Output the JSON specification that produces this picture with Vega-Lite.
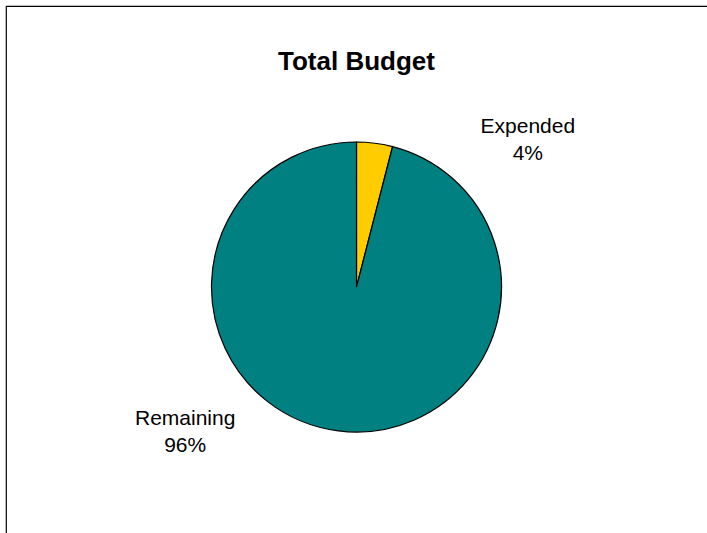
{
  "$schema": "https://vega.github.io/schema/vega-lite/v6.json",
  "autosize": {"type": "none"},
  "padding": {"left": 6, "top": 6, "right": 0, "bottom": 0},
  "width": 701,
  "height": 562,
  "background": "white",
  "view": {"stroke": "black", "strokeWidth": 1.2, "strokeDash": [701, 1263, 562, 0]},
  "title": {
    "text": "Total Budget",
    "font": "Liberation Sans",
    "fontSize": 26,
    "fontWeight": "bold",
    "color": "black",
    "anchor": "middle",
    "baseline": "middle",
    "offset": 0,
    "dy": 82
  },
  "data": {
    "values": [
      {"category": "Expended", "value": 4, "label": "Expended\n4%"},
      {"category": "Remaining", "value": 96, "label": "Remaining\n96%"}
    ]
  },
  "encoding": {
    "theta": {"field": "value", "type": "quantitative", "stack": true},
    "order": {"field": "category", "sort": "ascending"}
  },
  "layer": [
    {
      "mark": {"type": "arc", "radius": 145, "stroke": "black", "strokeWidth": 1.2},
      "encoding": {
        "color": {
          "field": "category",
          "type": "nominal",
          "scale": {"domain": ["Expended", "Remaining"], "range": ["#FFCC00", "#008080"]},
          "legend": null
        }
      }
    },
    {
      "mark": {
        "type": "text",
        "radius": 225,
        "thetaOffset": 0.74,
        "font": "Liberation Sans",
        "fontSize": 21,
        "color": "black",
        "lineBreak": "\n",
        "lineHeight": 27,
        "align": "center",
        "baseline": "middle",
        "dy": -14
      },
      "encoding": {
        "text": {"field": "label", "type": "nominal"}
      }
    }
  ]
}
